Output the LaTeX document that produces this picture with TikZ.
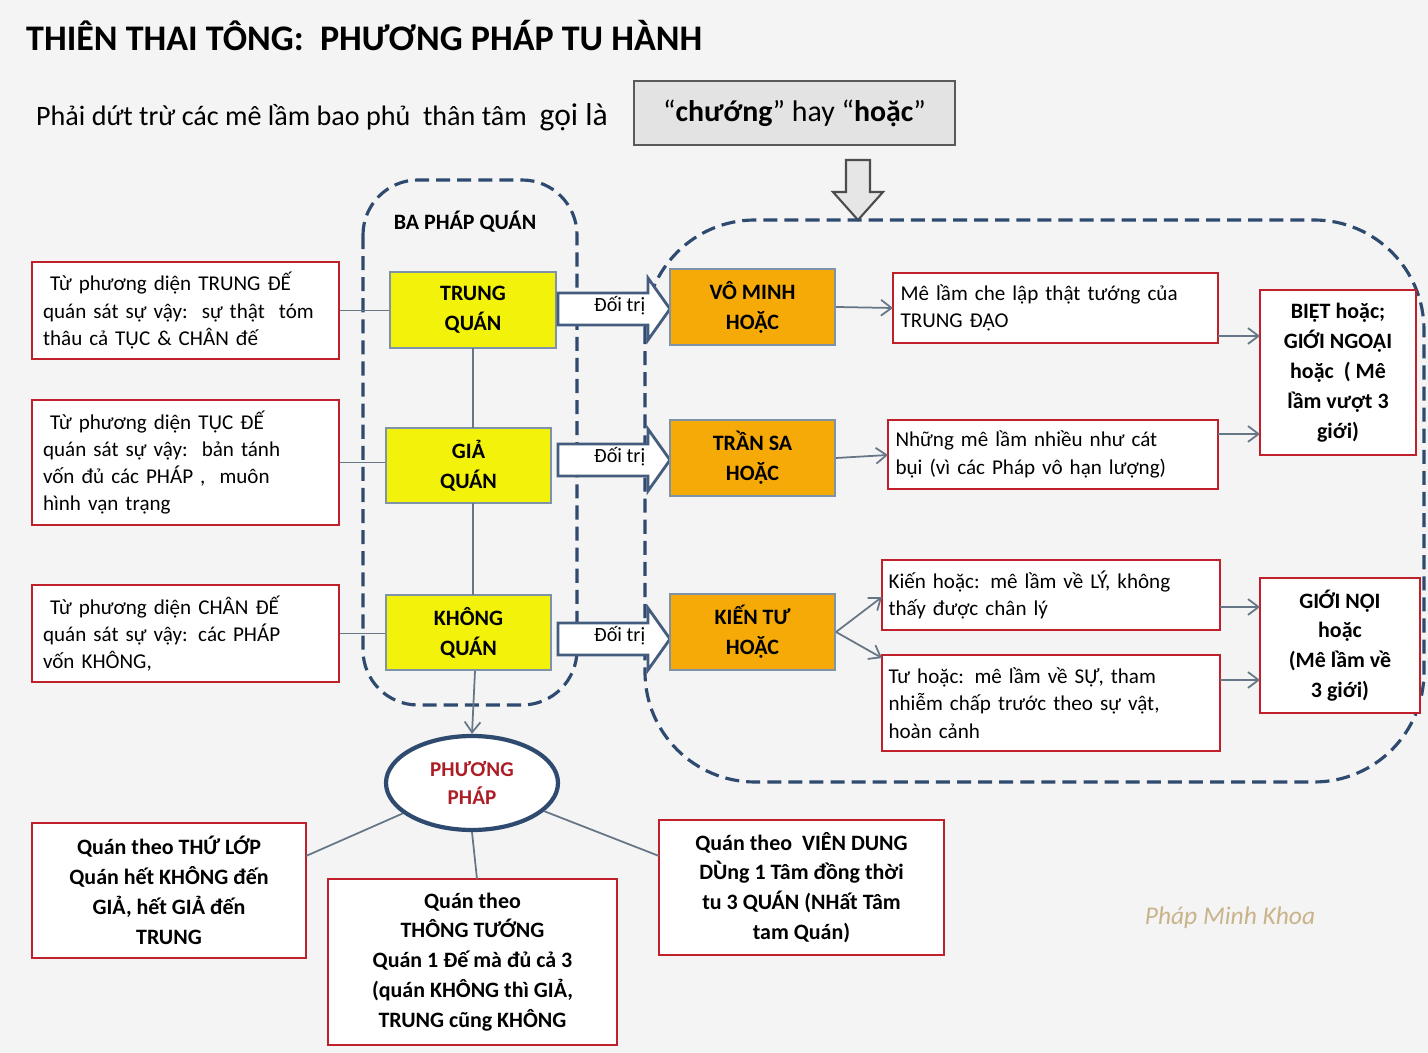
\documentclass[tikz,border=0pt]{standalone}
\usepackage{fontspec}
\setmainfont{Carlito}
\usetikzlibrary{arrows.meta,shapes.geometric}
\definecolor{dblue}{HTML}{2F4A6F}
\definecolor{rbord}{HTML}{C0202A}
\definecolor{ybord}{HTML}{7F93A8}
\definecolor{yel}{HTML}{F2F20A}
\definecolor{org}{HTML}{F5AA08}
\definecolor{bg}{HTML}{F4F4F4}
\definecolor{sigc}{HTML}{C9B38A}
\tikzset{
 base/.style={draw, line width=1.2pt, inner sep=2pt},
 rbox/.style={base, draw=rbord, fill=white, font=\fontsize{12}{15.5}\selectfont},
 rboxb/.style={rbox, font=\bfseries\fontsize{12.5}{17}\selectfont, align=center},
 ybox/.style={base, draw=ybord, fill=yel, font=\bfseries\fontsize{12.5}{17}\selectfont, align=center},
 obox/.style={base, draw=ybord, fill=org, font=\bfseries\fontsize{12.5}{17}\selectfont, align=center},
 conn/.style={draw=ybord!80!black, line width=1pt},
 arr/.style={conn, -{Straight Barb[length=6pt,width=9pt]}},
 dbox/.style={draw=dblue, line width=1.8pt, dash pattern=on 8pt off 4pt},
}
\newcommand{\bx}[7]{\node[#6, minimum width={(#4-#2)*0.02cm}, minimum height={(#5-#3)*0.02cm}] (#1) at ({(#2+#4)/2},{(#3+#5)/2}) {#7};}
\newcommand{\blockarrow}[3]{% x1, x2, yc
 \draw[draw=dblue!90, line width=1.6pt, fill=white] (#1,#3-16) -- (#2-22,#3-16) -- (#2-22,#3-31) -- (#2,#3) -- (#2-22,#3+31) -- (#2-22,#3+16) -- (#1,#3+16) -- cycle;
 \node[font=\fontsize{11.5}{13}\selectfont, anchor=west] at (#1+30,#3-3) {Đối trị};}
\begin{document}
\begin{tikzpicture}[x=0.02cm,y=-0.02cm]
\fill[bg] (0,0) rectangle (1428,1053);
\useasboundingbox (0,0) rectangle (1428,1053);
\node[anchor=west, font=\bfseries\fontsize{20.5}{23}\selectfont] (title) at (20,36) {THIÊN THAI TÔNG:\ \ PHƯƠNG PHÁP TU HÀNH};
\node[anchor=west, font=\fontsize{16}{19}\selectfont] (sub) at (30,117) {Phải dứt trừ các mê lầm bao phủ\ \ thân tâm\ \ {\fontsize{18}{20}\selectfont gọi là}};
\bx{chuong}{634}{81}{955}{145}{base, draw=gray!70!black, fill=gray!22, font=\fontsize{17}{19}\selectfont}{“\textbf{chướng}” hay “\textbf{hoặc}”}
\draw[draw=gray!60!black, line width=1.2pt, fill=gray!12!bg] (846,160) -- (870,160) -- (870,192) -- (883,192) -- (858,220) -- (833,192) -- (846,192) -- cycle;
% dashed containers
\draw[dbox, rounded corners=1.1cm] (363,180) rectangle (577,705);
\node[font=\bfseries\fontsize{12.5}{15}\selectfont] (ba) at (465,222) {BA PHÁP QUÁN};
\draw[dbox, rounded corners=2.2cm] (645,220) rectangle (1424,782);
% left boxes
\bx{l1}{32}{262}{339}{359}{rbox, align=left, text width=5.7cm}{\ Từ phương diện TRUNG ĐẾ\\quán sát sự vậy:\ \ sự thật\ \ tóm\\thâu cả TỤC \& CHÂN đế}
\bx{l2}{32}{400}{339}{525}{rbox, align=left, text width=5.7cm}{\ Từ phương diện TỤC ĐẾ\\quán sát sự vậy:\ \ bản tánh\\vốn đủ các PHÁP ,\ \ muôn\\hình vạn trạng}
\bx{l3}{32}{585}{339}{682}{rbox, align=left, text width=5.7cm}{\ Từ phương diện CHÂN ĐẾ\\quán sát sự vậy: các PHÁP\\vốn KHÔNG,}
% yellow
\bx{y1}{390}{272}{556}{348}{ybox}{TRUNG\\QUÁN}
\bx{y2}{386}{428}{551}{503}{ybox}{GIẢ\\QUÁN}
\bx{y3}{386}{595}{551}{670}{ybox}{KHÔNG\\QUÁN}
\draw[conn] (l1) -- (l1 -| y1.west);
\draw[conn] (l2) -- (l2 -| y2.west);
\draw[conn] (l3) -- (l3 -| y3.west);
\draw[conn] (473,348) -- (473,428);
\draw[conn] (473,503) -- (473,595);
% block arrows
\blockarrow{558}{670}{309}
\blockarrow{558}{670}{460}
\blockarrow{558}{670}{639}
% orange
\bx{o1}{670}{269}{835}{345}{obox}{VÔ MINH\\HOẶC}
\bx{o2}{670}{420}{835}{496}{obox}{TRẦN SA\\HOẶC}
\bx{o3}{670}{594}{835}{670}{obox}{KIẾN TƯ\\HOẶC}
% right red
\bx{r1}{893}{273}{1218}{343}{rbox, align=left, text width=6.2cm}{Mê lầm che lập thật tướng của\\TRUNG ĐẠO}
\bx{r2}{888}{420}{1218}{489}{rbox, align=left, text width=6.3cm}{Những mê lầm nhiều như cát\\bụi (vì các Pháp vô hạn lượng)}
\bx{r3}{882}{560}{1220}{630}{rbox, align=left, text width=6.5cm}{Kiến hoặc: mê lầm về LÝ, không\\thấy được chân lý}
\bx{r4}{882}{655}{1220}{751}{rbox, align=left, text width=6.5cm}{Tư hoặc: mê lầm về SỰ, tham\\nhiễm chấp trước theo sự vật,\\hoàn cảnh}
\bx{f1}{1260}{290}{1416}{455}{rboxb}{BIỆT hoặc;\\GIỚI NGOẠI\\hoặc\ \ ( Mê\\lầm vượt 3\\giới)}
\bx{f2}{1260}{578}{1420}{713}{rboxb}{GIỚI NỘI\\hoặc\\(Mê lầm về\\3 giới)}
\draw[arr] (o1.east) -- (893,308);
\draw[arr] (o2.east) -- (888,455);
\draw[arr] (o3.east) -- (882,597);
\draw[arr] (o3.east) -- (882,658);
\draw[arr] (1218,336) -- (1260,336);
\draw[arr] (1218,434) -- (1260,434);
\draw[arr] (1220,607) -- (1260,607);
\draw[arr] (1220,680) -- (1260,680);
% ellipse
\node[ellipse, draw=dblue, line width=2.4pt, fill=white, minimum width=172*0.02cm, minimum height=94*0.02cm, font=\bfseries\fontsize{12}{16}\selectfont, text=rbord!90!black, align=center] (pp) at (472,783) {PHƯƠNG\\PHÁP};
\draw[arr] (y3.south -| 475,0) -- (pp.north);
% bottom
\bx{b1}{32}{823}{306}{958}{rboxb}{Quán theo THỨ LỚP\\Quán hết KHÔNG đến\\GIẢ, hết GIẢ đến\\TRUNG}
\bx{b2}{328}{879}{617}{1045}{rboxb}{Quán theo\\THÔNG TƯỚNG\\Quán 1 Đế mà đủ cả 3\\(quán KHÔNG thì GIẢ,\\TRUNG cũng KHÔNG}
\bx{b3}{659}{820}{944}{955}{rboxb}{Quán theo\ \ VIÊN DUNG\\DÙng 1 Tâm đồng thời\\tu 3 QUÁN (NHất Tâm\\tam Quán)}
\draw[conn] (pp) -- (306,856);
\draw[conn] (pp.south) -- (477,879);
\draw[conn] (pp) -- (659,856);
\node[font=\itshape\fontsize{14.5}{17}\selectfont, text=sigc] (sig) at (1230,918) {Pháp Minh Khoa};
\end{tikzpicture}
\end{document}
